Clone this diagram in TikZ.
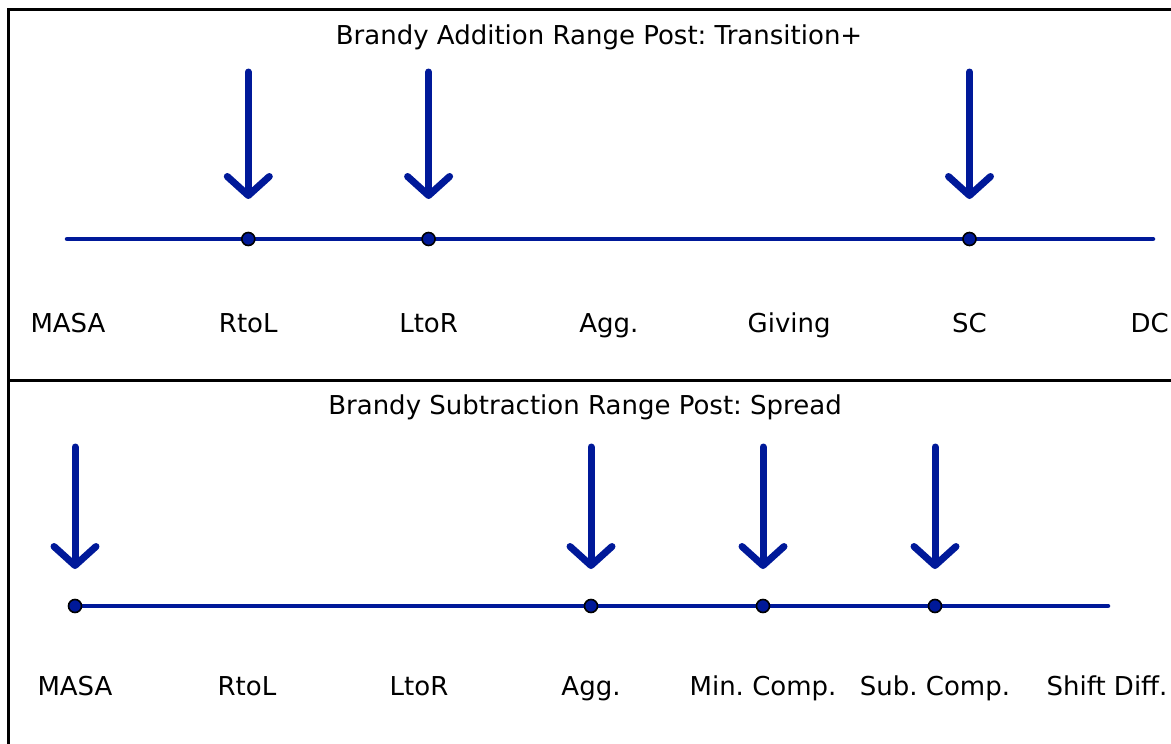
\documentclass[tikz,border=0pt]{standalone}
\usepackage{fontspec}
\setmainfont{DejaVu Sans}
\usetikzlibrary{arrows.meta}

\definecolor{rangeblue}{RGB}{0,25,153}
\frenchspacing

\begin{document}
\begin{tikzpicture}[x=1pt, y=-1pt]
        \tikzstyle{heading} = [anchor=base, inner sep=0pt, font=\fontsize{26}{31}\selectfont];
        \tikzstyle{axistext} = [anchor=base, inner sep=0pt, font=\fontsize{26}{31}\selectfont];
        \tikzstyle{axis} = [line width=4.5pt, draw=rangeblue, line cap=round];
        \tikzstyle{stop} = [circle, minimum size=13pt, inner sep=0pt, fill=rangeblue, draw=black, line width=1.6pt];
        \tikzstyle{arrow} = [line width=7pt, draw=rangeblue, line cap=round, -{Straight Barb[round,length=19pt,width=42pt]}];

        \useasboundingbox (0,0) rectangle (1171,744);
        \draw[line width=3pt] (1171,9) -- (8,9) -- (8,744);
        \draw[line width=3pt] (8,380) -- (1171,380);

        % addition range
        \node(titleA) [heading] at (599,44) {Brandy Addition Range Post: Transition+};
        \node(masaA) [axistext] at (68,332) {MASA};
        \node(rtolA) [axistext] at ([xshift=180.3pt]masaA.base) {RtoL};
        \node(ltorA) [axistext] at ([xshift=180.3pt]rtolA.base) {LtoR};
        \node(aggA) [axistext] at ([xshift=180.3pt]ltorA.base) {Agg.};
        \node(givingA) [axistext] at ([xshift=180.3pt]aggA.base) {Giving};
        \node(scA) [axistext] at ([xshift=180.3pt]givingA.base) {SC};
        \node(dcA) [axistext] at ([xshift=180.3pt]scA.base) {DC};

        \coordinate(axisAstart) at (67,239);
        \coordinate(axisAend) at (1153,239);
        \draw[axis] (axisAstart) -- (axisAend);
        \node(rtolAdot) [stop] at (rtolA |- axisAstart) {};
        \node(ltorAdot) [stop] at (ltorA |- axisAstart) {};
        \node(scAdot) [stop] at (scA |- axisAstart) {};

        \coordinate(rtolAtop) at (rtolA |- 0,72);
        \coordinate(ltorAtop) at (ltorA |- 0,72);
        \coordinate(scAtop) at (scA |- 0,72);
        \draw[arrow, shorten >=40pt] (rtolAtop) -- (rtolAdot.center);
        \draw[arrow, shorten >=40pt] (ltorAtop) -- (ltorAdot.center);
        \draw[arrow, shorten >=40pt] (scAtop) -- (scAdot.center);

        % subtraction range
        \node(titleB) [heading] at (585,414) {Brandy Subtraction Range Post: Spread};
        \node(masaB) [axistext] at (75,695) {MASA};
        \node(rtolB) [axistext] at ([xshift=172pt]masaB.base) {RtoL};
        \node(ltorB) [axistext] at ([xshift=172pt]rtolB.base) {LtoR};
        \node(aggB) [axistext] at ([xshift=172pt]ltorB.base) {Agg.};
        \node(minB) [axistext] at ([xshift=172pt]aggB.base) {Min. Comp.};
        \node(subB) [axistext] at ([xshift=172pt]minB.base) {Sub. Comp.};
        \node(shiftB) [axistext] at ([xshift=172pt]subB.base) {Shift Diff.};

        \coordinate(axisBstart) at (75,606);
        \coordinate(axisBend) at (1108,606);
        \draw[axis] (axisBstart) -- (axisBend);
        \node(masaBdot) [stop] at (masaB |- axisBstart) {};
        \node(aggBdot) [stop] at (aggB |- axisBstart) {};
        \node(minBdot) [stop] at (minB |- axisBstart) {};
        \node(subBdot) [stop] at (subB |- axisBstart) {};

        \coordinate(masaBtop) at (masaB |- 0,447);
        \coordinate(aggBtop) at (aggB |- 0,447);
        \coordinate(minBtop) at (minB |- 0,447);
        \coordinate(subBtop) at (subB |- 0,447);
        \draw[arrow, shorten >=37pt] (masaBtop) -- (masaBdot.center);
        \draw[arrow, shorten >=37pt] (aggBtop) -- (aggBdot.center);
        \draw[arrow, shorten >=37pt] (minBtop) -- (minBdot.center);
        \draw[arrow, shorten >=37pt] (subBtop) -- (subBdot.center);

    \end{tikzpicture}
\end{document}
